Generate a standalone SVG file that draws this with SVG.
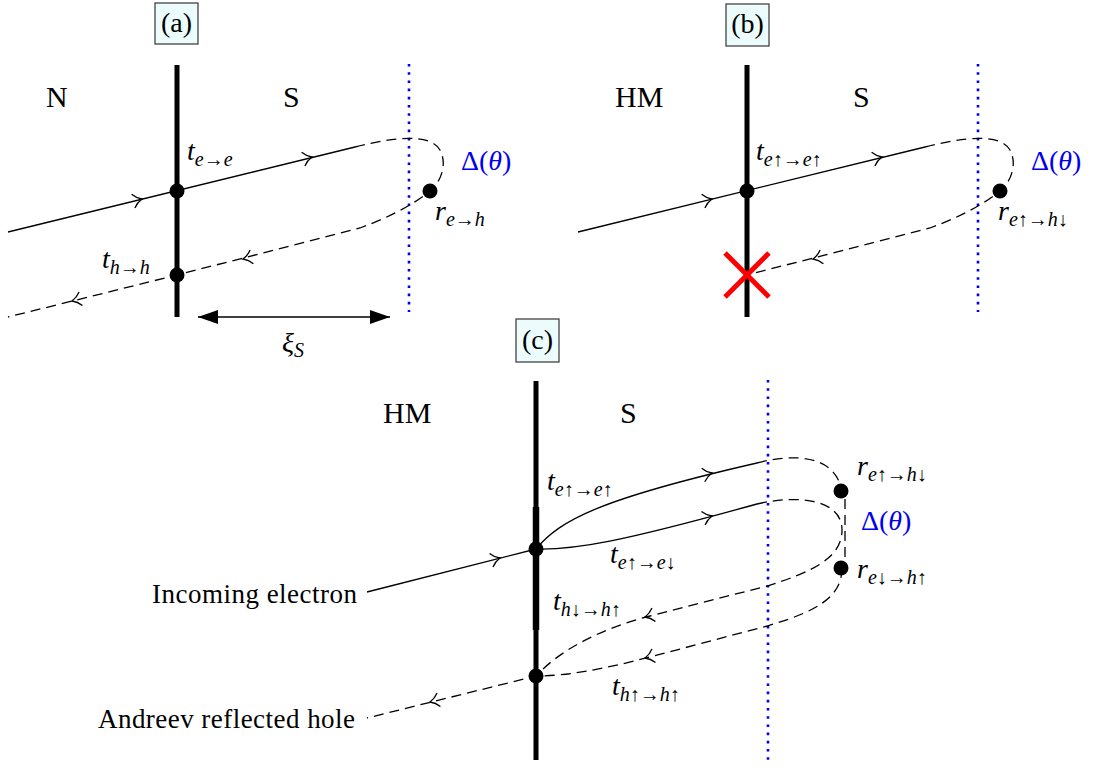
<svg xmlns="http://www.w3.org/2000/svg" xmlns:xlink="http://www.w3.org/1999/xlink" width="1093" height="771" viewBox="0 0 1093 771">
<style>
.thick{stroke:#000;stroke-width:5;fill:none}
.ln{stroke:#000;stroke-width:1.3;fill:none}
.dash{stroke:#000;stroke-width:1.3;fill:none;stroke-dasharray:10 6}
.bdot{stroke:#0000ee;stroke-width:2.6;stroke-dasharray:2.6 5.6;fill:none}
.nd{fill:#000}
.box{fill:#ecfcfc;stroke:#444;stroke-width:1.3}
.rm{font-family:"Liberation Serif","DejaVu Serif",serif;font-size:30px;fill:#000}
.lab{font-family:"Liberation Serif","DejaVu Serif",serif;font-size:28px;fill:#000;text-anchor:middle}
.txt{font-family:"Liberation Serif","DejaVu Serif",serif;font-size:27px;fill:#000;text-anchor:end}
.m{font-family:"Liberation Serif","DejaVu Serif",serif;font-size:28px;font-style:italic;fill:#000}
.s{font-size:20px}
.u{font-style:normal}
.blue{fill:#0000ee;font-size:28px}
.x{stroke:#ff0000;stroke-width:5;fill:none}
</style>
<defs>
<path id="to" d="M-9,-7 C-6,-3 -2,-0.8 0,0 C-2,0.8 -6,3 -9,7" fill="none" stroke="#000" stroke-width="1.3"/>
<marker id="tri" viewBox="0 0 20 14" refX="20" refY="7" markerWidth="20" markerHeight="14" markerUnits="userSpaceOnUse" orient="auto-start-reverse">
<path d="M0,0 L20,7 L0,14 Z" fill="#000"/>
</marker>
</defs>

<!-- Panel (a) -->
<g id="panel-a">
<g id="a-label"><rect class="box" x="155" y="3" width="43" height="41"/><text class="lab" x="176.5" y="32">(a)</text></g>
<g id="a-interface"><line class="thick" x1="177" y1="65" x2="177" y2="317"/></g>
<g id="a-edge"><line class="bdot" x1="409" y1="64" x2="409" y2="312"/></g>
<g id="a-regions"><text class="rm" x="46" y="107">N</text><text class="rm" x="283" y="107">S</text></g>
<g id="a-connectors">
<path class="ln" d="M8,232 L355,147"/>
<path class="dash" d="M355,147 C395,137 430,133 440,150 C448,165 440,183 430,191 C415,203 395,215 360,228 L177,275 L8,317"/>
<use href="#to" transform="translate(142,199) rotate(-13.6)"/>
<use href="#to" transform="translate(312,157) rotate(-13.6)"/>
<use href="#to" transform="translate(243,259) rotate(166.4)"/>
<use href="#to" transform="translate(72,301) rotate(166)"/>
<line class="ln" x1="198" y1="317" x2="390" y2="317" marker-start="url(#tri)" marker-end="url(#tri)"/>
</g>
<g id="a-nodes">
<circle class="nd" cx="177" cy="191" r="7.5"/>
<circle class="nd" cx="177" cy="275" r="7.5"/>
<circle class="nd" cx="430" cy="191" r="7.5"/>
</g>
<g id="a-texts">
<text class="m" x="187" y="160">t<tspan class="s" dy="6">e<tspan class="u">→</tspan>e</tspan></text>
<text class="m" x="102" y="268">t<tspan class="s" dy="6">h<tspan class="u">→</tspan>h</tspan></text>
<text class="m" x="435" y="220">r<tspan class="s" dy="6">e<tspan class="u">→</tspan>h</tspan></text>
<text class="rm blue" x="461" y="170">Δ(<tspan font-style="italic">θ</tspan>)</text>
<text class="m" x="282" y="352" font-size="32">ξ<tspan class="s" dy="5">S</tspan></text>
</g>
</g>

<!-- Panel (b) -->
<g id="panel-b">
<g id="b-label"><rect class="box" x="726" y="4" width="43" height="42"/><text class="lab" x="747.5" y="33">(b)</text></g>
<g id="b-interface"><line class="thick" x1="747" y1="65" x2="747" y2="317"/></g>
<g id="b-edge"><line class="bdot" x1="978" y1="64" x2="978" y2="312"/></g>
<g id="b-regions"><text class="rm" x="615" y="107">HM</text><text class="rm" x="853" y="107">S</text></g>
<g id="b-connectors">
<path class="ln" d="M578,232 L925,147"/>
<path class="dash" d="M925,147 C965,137 1000,133 1010,150 C1018,165 1010,183 1000,191 C985,203 965,215 930,228 L747,275"/>
<use href="#to" transform="translate(712,199) rotate(-13.6)"/>
<use href="#to" transform="translate(882,157) rotate(-13.6)"/>
<use href="#to" transform="translate(813,259) rotate(166.4)"/>
</g>
<g id="b-nodes">
<circle class="nd" cx="747" cy="191" r="7.5"/>
<circle class="nd" cx="1000" cy="191" r="7.5"/>
<g id="b-block"><line class="x" x1="725" y1="253" x2="769" y2="297"/><line class="x" x1="725" y1="297" x2="769" y2="253"/></g>
</g>
<g id="b-texts">
<text class="m" x="756" y="160">t<tspan class="s" dy="6">e<tspan class="u">↑→</tspan>e<tspan class="u">↑</tspan></tspan></text>
<text class="m" x="998" y="220">r<tspan class="s" dy="6">e<tspan class="u">↑→</tspan>h<tspan class="u">↓</tspan></tspan></text>
<text class="rm blue" x="1031" y="170">Δ(<tspan font-style="italic">θ</tspan>)</text>
</g>
</g>

<!-- Panel (c) -->
<g id="panel-c">
<g id="c-label"><rect class="box" x="516" y="319" width="43" height="43"/><text class="lab" x="537.5" y="349">(c)</text></g>
<g id="c-interface">
<line class="thick" x1="536" y1="381" x2="536" y2="760"/>
<line x1="536" y1="507" x2="536" y2="630" stroke="#000" stroke-width="6.5"/>
</g>
<g id="c-edge"><line class="bdot" x1="768" y1="380" x2="768" y2="760"/></g>
<g id="c-regions"><text class="rm" x="383" y="423">HM</text><text class="rm" x="620" y="423">S</text></g>
<g id="c-connectors">
<path class="ln" d="M367,592 L536,549"/>
<path class="ln" d="M536,549 C560,520 600,499 757,463"/>
<path class="ln" d="M536,549 C575,550 620,542 757,504"/>
<path class="dash" d="M757,463 C795,453 835,455 842,491"/>
<path class="dash" d="M845,499 L845,561"/>
<path class="dash" d="M757,504 C800,494 842,500 842,530 C842,558 812,572 767,586 L650,616 C600,629 560,650 536,676"/>
<path class="dash" d="M842,568 C842,598 815,612 767,626 L650,657 C600,670 565,676 536,676 L367,718"/>
<use href="#to" transform="translate(500,558) rotate(-14.3)"/>
<use href="#to" transform="translate(712,473) rotate(-12.8)"/>
<use href="#to" transform="translate(712,516) rotate(-15)"/>
<use href="#to" transform="translate(645,617) rotate(165.5)"/>
<use href="#to" transform="translate(645,658) rotate(165.5)"/>
<use href="#to" transform="translate(430,702) rotate(166)"/>
</g>
<g id="c-nodes">
<circle class="nd" cx="536" cy="549" r="7.5"/>
<circle class="nd" cx="536" cy="676" r="7.5"/>
<circle class="nd" cx="841" cy="491" r="7.5"/>
<circle class="nd" cx="841" cy="568" r="7.5"/>
</g>
<g id="c-texts">
<text class="m" x="547" y="490">t<tspan class="s" dy="6">e<tspan class="u">↑→</tspan>e<tspan class="u">↑</tspan></tspan></text>
<text class="m" x="610" y="563">t<tspan class="s" dy="6">e<tspan class="u">↑→</tspan>e<tspan class="u">↓</tspan></tspan></text>
<text class="m" x="553" y="610">t<tspan class="s" dy="6">h<tspan class="u">↓→</tspan>h<tspan class="u">↑</tspan></tspan></text>
<text class="m" x="612" y="695">t<tspan class="s" dy="6">h<tspan class="u">↑→</tspan>h<tspan class="u">↑</tspan></tspan></text>
<text class="m" x="857" y="475">r<tspan class="s" dy="6">e<tspan class="u">↑→</tspan>h<tspan class="u">↓</tspan></tspan></text>
<text class="m" x="857" y="578">r<tspan class="s" dy="6">e<tspan class="u">↓→</tspan>h<tspan class="u">↑</tspan></tspan></text>
<text class="rm blue" x="861" y="530">Δ(<tspan font-style="italic">θ</tspan>)</text>
<text class="txt" x="357" y="603" textLength="205">Incoming electron</text>
<text class="txt" x="355" y="728" textLength="257">Andreev reflected hole</text>
</g>
</g>
</svg>
